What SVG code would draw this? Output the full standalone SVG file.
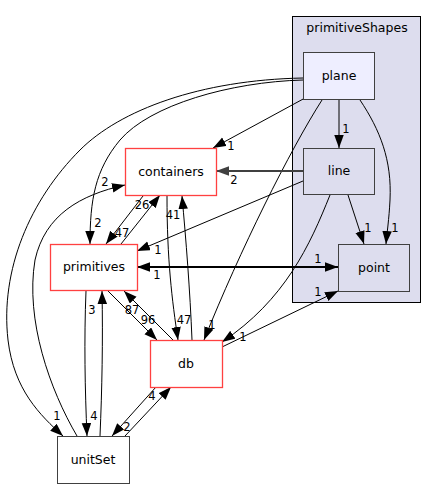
<svg xmlns="http://www.w3.org/2000/svg" width="437" height="489" viewBox="0 0 437 489">
<style>
.n{stroke:#404040;stroke-width:1}
.r{fill:#ffffff;stroke:#ff4040;stroke-width:1.3}
.t{font-family:"DejaVu Sans",sans-serif;font-size:12.5px;text-anchor:middle;fill:#000}
.l{font-family:"DejaVu Sans",sans-serif;font-size:11.5px;text-anchor:middle;fill:#000}
.e{fill:none;stroke:#000;stroke-width:1}
.b{fill:none;stroke:#000;stroke-width:2}
.g{fill:none;stroke:#404040;stroke-width:2}
</style>
<defs>
<marker id="a" markerUnits="userSpaceOnUse" markerWidth="14" markerHeight="10" refX="13" refY="4.75" orient="auto"><path d="M0,0 L13,4.75 L0,9.5 z" fill="#000"/></marker>
<marker id="ag" markerUnits="userSpaceOnUse" markerWidth="14" markerHeight="10" refX="13" refY="4.75" orient="auto"><path d="M0,0 L13,4.75 L0,9.5 z" fill="#404040"/></marker>
<marker id="s" markerUnits="userSpaceOnUse" markerWidth="14" markerHeight="10" refX="0" refY="4.75" orient="auto"><path d="M13,0 L0,4.75 L13,9.5 z" fill="#000"/></marker>
</defs>
<g id="cluster_primitiveShapes">
<rect x="292.5" y="16.5" width="128" height="286" fill="#ddddee" stroke="#000"/>
<text class="t" x="357" y="32">primitiveShapes</text>
</g>
<g id="edges">
<path class="e" marker-end="url(#a)" d="M305,98 L213,148"/><text class="l" x="231" y="150">1</text>
<path class="e" marker-end="url(#a)" d="M339,99 L339,148"/><text class="l" x="346" y="133">1</text>
<path class="e" marker-end="url(#a)" d="M360,100 C380,130 392,160 390,200 C389,220 387,232 386,244"/><text class="l" x="395" y="232">1</text>
<path class="e" marker-end="url(#a)" d="M303,80 C230,82 150,105 120,140 C95,170 90,200 90,244"/><text class="l" x="98" y="227">2</text>
<path class="e" marker-end="url(#a)" d="M303,78 C200,80 120,110 80,150 C30,200 0,270 8,340 C14,390 40,415 63,436"/><text class="l" x="57" y="420">1</text>
<path class="e" marker-end="url(#a)" d="M322,100 C290,150 240,250 204,340"/><text class="l" x="212" y="329">1</text>
<path class="g" marker-end="url(#ag)" d="M303,171 L216,171"/><text class="l" x="234" y="184">2</text>
<path class="e" marker-end="url(#a)" d="M303,181 L137,251"/><text class="l" x="158" y="254">1</text>
<path class="e" marker-end="url(#a)" d="M348,195 L364,244"/><text class="l" x="368" y="232">1</text>
<path class="e" marker-end="url(#a)" d="M330,195 C310,245 285,300 222,342"/><text class="l" x="243" y="341">1</text>
<path class="e" marker-end="url(#a)" d="M222,347 L338,291"/><text class="l" x="318" y="296">1</text>
<path class="b" marker-start="url(#s)" marker-end="url(#a)" d="M137,267 L338,267"/><text class="l" x="157" y="279">1</text><text class="l" x="318" y="263">1</text>
<path class="e" marker-end="url(#a)" d="M143,196 L106,244"/><text class="l" x="122" y="237">47</text>
<path class="e" marker-end="url(#a)" d="M121,244 L160,195"/><text class="l" x="142" y="209">26</text>
<path class="e" marker-end="url(#a)" d="M167,196 C167,260 172,300 178,340"/><text class="l" x="184" y="324">47</text>
<path class="e" marker-end="url(#a)" d="M192,340 C190,290 186,240 182,196"/><text class="l" x="173" y="219">41</text>
<path class="e" marker-end="url(#a)" d="M108,291 L157,340"/><text class="l" x="148" y="324">96</text>
<path class="e" marker-end="url(#a)" d="M173,340 L124,291"/><text class="l" x="132" y="314">87</text>
<path class="e" marker-end="url(#a)" d="M86,291 C84,340 85,390 87,436"/><text class="l" x="94" y="420">4</text>
<path class="e" marker-end="url(#a)" d="M100,436 C102,390 103,340 102,291"/><text class="l" x="92" y="314">3</text>
<path class="e" marker-end="url(#a)" d="M156,387 L112,436"/><text class="l" x="127" y="431">2</text>
<path class="e" marker-end="url(#a)" d="M125,436 L171,387"/><text class="l" x="152" y="400">4</text>
<path class="e" marker-end="url(#a)" d="M77,436 C50,390 25,320 35,260 C45,215 80,195 125,185"/><text class="l" x="105" y="186">2</text>
</g>
<g id="plane"><rect class="n" x="303.5" y="52.5" width="71" height="47" fill="#eeeeff"/><text class="t" x="339" y="80">plane</text></g>
<g id="line"><rect class="n" x="303.5" y="148.5" width="71" height="46" fill="#ddddee"/><text class="t" x="339" y="175">line</text></g>
<g id="point"><rect class="n" x="338.5" y="244.5" width="71" height="47" fill="#ddddee"/><text class="t" x="374" y="272">point</text></g>
<g id="containers"><rect class="r" x="125.5" y="148.5" width="91" height="47"/><text class="t" x="171" y="176">containers</text></g>
<g id="primitives"><rect class="r" x="50.5" y="244.5" width="87" height="46"/><text class="t" x="94" y="271">primitives</text></g>
<g id="db"><rect class="r" x="150.5" y="340.5" width="72" height="47"/><text class="t" x="186" y="368">db</text></g>
<g id="unitSet"><rect class="n" x="57.5" y="436.5" width="72" height="47" fill="#ffffff"/><text class="t" x="93" y="464">unitSet</text></g>
</svg>
